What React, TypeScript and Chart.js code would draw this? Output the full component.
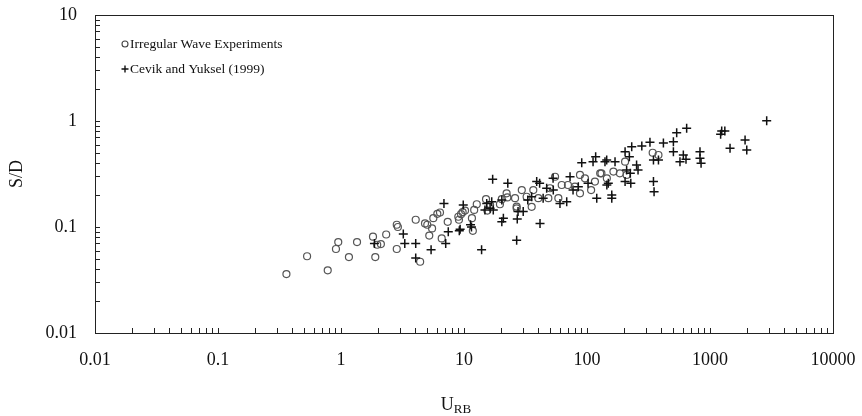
import React, { useEffect, useRef } from 'react';
import { Chart, registerables } from 'chart.js';

Chart.register(...registerables);

const seriesNames = ['Irregular Wave Experiments', 'Cevik and Yuksel (1999)'];

const irregularU = [
  0.36, 0.53, 0.78, 0.95, 0.91, 1.16, 1.35, 1.82, 1.9, 1.97, 2.11, 2.33, 2.84, 2.9, 2.84,
  4.05, 4.4, 4.82, 5.03, 5.22, 5.5, 5.63, 6.07, 6.38, 6.59, 7.37, 8.99, 9.1, 9.46, 9.75,
  10.2, 11.6, 11.8, 12.1, 12.7, 15.1, 15.5, 16.3, 19.6, 20.3, 22.2, 22.5, 26, 26.8, 26.8,
  29.5, 32.3, 35.5, 36.6, 40.2, 48.5, 50, 55, 58.5, 62.3, 70, 79.8, 87.7, 87.7, 96.3,
  108, 116, 128, 131, 145, 164, 185, 204, 210, 342, 381,
];
const irregularS = [
  0.036, 0.053, 0.039, 0.072, 0.062, 0.052, 0.072, 0.081, 0.052, 0.068, 0.069, 0.085, 0.105, 0.1, 0.062,
  0.117, 0.047, 0.108, 0.105, 0.083, 0.097, 0.121, 0.133, 0.137, 0.078, 0.112, 0.125, 0.117, 0.132, 0.138,
  0.143, 0.121, 0.092, 0.145, 0.164, 0.183, 0.143, 0.161, 0.164, 0.183, 0.208, 0.19, 0.187, 0.156, 0.15,
  0.223, 0.193, 0.155, 0.223, 0.187, 0.187, 0.232, 0.298, 0.187, 0.249, 0.249, 0.24, 0.208, 0.31, 0.288,
  0.223, 0.268, 0.321, 0.321, 0.288, 0.333, 0.321, 0.413, 0.31, 0.502, 0.478,
];

const cevikU = [
  1.87, 3.21, 3.3, 4.05, 4.05, 5.4, 6.87, 7.45, 7.1, 9.16, 9.86, 11.3, 13.9, 17.1, 22.7,
  16.3, 20.9, 20.3, 26.8, 27.1, 41.5, 30.3, 39, 41.2, 60.3, 68.4, 72.8, 90.6, 117.6, 120,
  144.6, 149, 53.2, 47, 85, 102, 35.5, 140, 169, 204, 231, 221, 279, 325, 418,
  504, 536, 646, 504, 607, 570, 638, 347, 381, 347, 351, 253, 260, 225, 204,
  227, 145, 159, 159, 829, 829, 846, 210, 1245, 1320, 1220, 1455, 1928, 1990, 2890,
  9.3, 11.5, 17.3, 53, 112, 77, 44, 33, 27.5, 20.3, 16.8, 15.3, 14.8,
];
const cevikS = [
  0.07, 0.086, 0.07, 0.07, 0.051, 0.061, 0.167, 0.09, 0.07, 0.092, 0.161, 0.105, 0.061, 0.282, 0.258,
  0.15, 0.121, 0.112, 0.075, 0.119, 0.108, 0.14, 0.268, 0.258, 0.167, 0.173, 0.298, 0.404, 0.46, 0.187,
  0.428, 0.258, 0.223, 0.232, 0.24, 0.258, 0.193, 0.413, 0.413, 0.513, 0.573, 0.46, 0.581, 0.63, 0.62,
  0.638, 0.776, 0.853, 0.513, 0.478, 0.413, 0.435, 0.428, 0.428, 0.268, 0.215, 0.385, 0.345, 0.321, 0.268,
  0.258, 0.249, 0.2, 0.187, 0.513, 0.445, 0.4, 0.345, 0.805, 0.805, 0.75, 0.552, 0.662, 0.533, 1.006,
  0.095, 0.1, 0.145, 0.288, 0.413, 0.223, 0.187, 0.18, 0.14, 0.18, 0.173, 0.167, 0.145,
];

const xTickValues = [0.01, 0.1, 1, 10, 100, 1000, 10000];
const xTickLabels = ['0.01', '0.1', '1', '10', '100', '1000', '10000'];
const yTickValues = [0.01, 0.1, 1, 10];
const yTickLabels = ['0.01', '0.1', '1', '10'];
const xTitleMain = 'U';
const xTitleSub = 'RB';
const yTitle = 'S/D';

const FONT = '"Liberation Serif", "Times New Roman", serif';

const decorPlugin = {
  id: 'decor',
  afterDraw(chart: any) {
    const { ctx, chartArea: a, scales } = chart;
    const x = scales.x;
    const y = scales.y;
    ctx.save();
    ctx.strokeStyle = '#222';
    ctx.lineWidth = 1;
    // frame
    ctx.strokeRect(Math.round(a.left) + 0.5, Math.round(a.top) + 0.5, Math.round(a.right - a.left), Math.round(a.bottom - a.top));
    // minor/major ticks pointing inward
    ctx.beginPath();
    for (let k = -2; k <= 3; k++) {
      for (let m = 1; m <= 9; m++) {
        const v = m * Math.pow(10, k);
        const px = Math.round(x.getPixelForValue(v)) + 0.5;
        if (px <= a.left + 1.5 || px >= a.right - 1.5) continue;
        ctx.moveTo(px, a.bottom);
        ctx.lineTo(px, a.bottom - 5);
      }
    }
    for (let k = -2; k <= 0; k++) {
      for (let m = 1; m <= 9; m++) {
        const v = m * Math.pow(10, k);
        const py = Math.round(y.getPixelForValue(v)) + 0.5;
        if (py <= a.top + 1.5 || py >= a.bottom - 1.5) continue;
        ctx.moveTo(a.left, py);
        ctx.lineTo(a.left + 5, py);
      }
    }
    ctx.stroke();

    // legend
    const lx = a.left + 30;
    const ly1 = a.top + 29;
    const ly2 = a.top + 54;
    ctx.strokeStyle = '#444';
    ctx.lineWidth = 1.1;
    ctx.beginPath();
    ctx.arc(lx, ly1, 3, 0, Math.PI * 2);
    ctx.stroke();
    ctx.strokeStyle = '#111';
    ctx.lineWidth = 1.4;
    ctx.beginPath();
    ctx.moveTo(lx - 3.5, ly2);
    ctx.lineTo(lx + 3.5, ly2);
    ctx.moveTo(lx, ly2 - 3.5);
    ctx.lineTo(lx, ly2 + 3.5);
    ctx.stroke();
    ctx.fillStyle = '#111';
    ctx.font = `13.5px ${FONT}`;
    ctx.textAlign = 'left';
    ctx.textBaseline = 'middle';
    ctx.fillText(seriesNames[0], lx + 5, ly1);
    ctx.fillText(seriesNames[1], lx + 5, ly2);

    // y title
    ctx.save();
    ctx.translate(17, (a.top + a.bottom) / 2);
    ctx.rotate(-Math.PI / 2);
    ctx.textAlign = 'center';
    ctx.textBaseline = 'middle';
    ctx.font = `18px ${FONT}`;
    ctx.fillText(yTitle, 0, 0);
    ctx.restore();

    // x title with subscript
    ctx.font = `18px ${FONT}`;
    const wMain = ctx.measureText(xTitleMain).width;
    ctx.font = `13px ${FONT}`;
    const wSub = ctx.measureText(xTitleSub).width;
    const cx = (a.left + a.right) / 2 - 8;
    const sx = cx - (wMain + wSub) / 2;
    ctx.textAlign = 'left';
    ctx.textBaseline = 'alphabetic';
    ctx.font = `18px ${FONT}`;
    ctx.fillText(xTitleMain, sx, 410);
    ctx.font = `13px ${FONT}`;
    ctx.fillText(xTitleSub, sx + wMain, 413);
    ctx.restore();
  },
};

export default function App() {
  const ref = useRef<HTMLCanvasElement | null>(null);
  useEffect(() => {
    if (!ref.current) return;
    const chart = new Chart(ref.current, {
      type: 'scatter',
      data: {
        datasets: [
          {
            label: seriesNames[1],
            data: cevikU.map((u, i) => ({ x: u, y: cevikS[i] })),
            pointStyle: 'cross',
            pointRadius: 4.5,
            pointBorderWidth: 1.5,
            borderColor: '#111',
            backgroundColor: '#111',
            order: 0,
          },
          {
            label: seriesNames[0],
            data: irregularU.map((u, i) => ({ x: u, y: irregularS[i] })),
            pointStyle: 'circle',
            pointRadius: 3.5,
            pointBorderWidth: 1.2,
            borderColor: '#555',
            backgroundColor: 'rgba(0,0,0,0)',
            order: 1,
          },
        ],
      },
      options: {
        responsive: false,
        animation: false,
        layout: { padding: { top: 15, right: 29, left: 0, bottom: 0 } },
        plugins: { legend: { display: false }, tooltip: { enabled: false } },
        scales: {
          x: {
            type: 'logarithmic',
            min: 0.01,
            max: 10000,
            grid: { display: false, drawTicks: false },
            border: { display: false },
            afterBuildTicks: (s: any) => {
              s.ticks = xTickValues.map((v) => ({ value: v }));
            },
            afterFit: (s: any) => {
              s.height = 83;
              s.paddingLeft = 0;
              s.paddingRight = 0;
              s.paddingTop = 0;
              s.paddingBottom = 0;
            },
            ticks: {
              autoSkip: false,
              maxRotation: 0,
              padding: 16,
              color: '#111',
              font: { family: FONT, size: 18 },
              callback: (_v: any, i: number) => xTickLabels[i],
            },
          },
          y: {
            type: 'logarithmic',
            min: 0.01,
            max: 10,
            grid: { display: false, drawTicks: false },
            border: { display: false },
            afterBuildTicks: (s: any) => {
              s.ticks = yTickValues.map((v) => ({ value: v }));
            },
            afterFit: (s: any) => {
              s.width = 95;
              s.paddingLeft = 0;
              s.paddingRight = 0;
              s.paddingTop = 0;
              s.paddingBottom = 0;
            },
            ticks: {
              autoSkip: false,
              padding: 18,
              color: '#111',
              font: { family: FONT, size: 18 },
              callback: (_v: any, i: number) => yTickLabels[i],
            },
          },
        },
      },
      plugins: [decorPlugin],
    });
    return () => chart.destroy();
  }, []);
  return (
    <div style={{ position: 'absolute', left: 0, top: 0, width: 862, height: 416, background: '#fff' }}>
      <canvas ref={ref} width={862} height={416} style={{ display: 'block' }} />
    </div>
  );
}
